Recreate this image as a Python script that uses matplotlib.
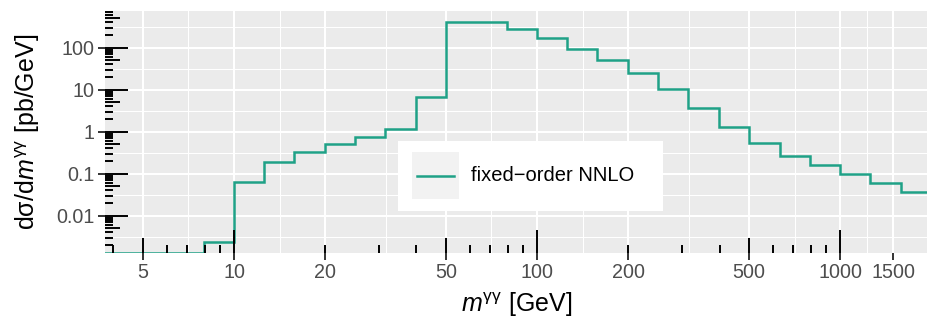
import numpy as np
import matplotlib
matplotlib.use("Agg")
import matplotlib.pyplot as plt
from matplotlib.patches import Rectangle
from matplotlib.lines import Line2D
from matplotlib.ticker import FixedLocator, FixedFormatter, NullFormatter

plt.rcParams['font.family'] = ['Liberation Sans', 'DejaVu Sans']
plt.rcParams['mathtext.fontset'] = 'custom'
plt.rcParams['mathtext.rm'] = 'Liberation Sans'
plt.rcParams['mathtext.it'] = 'Liberation Sans:italic'

# ---- data ----
bin_edges = [3.16, 3.98, 5.01, 6.31, 7.94,
             10.0, 12.6, 15.8, 20.0, 25.1, 31.6, 39.8, 50.1, 63.1, 79.4,
             100, 126, 158, 200, 251, 316, 398, 501, 631, 794,
             1000, 1259, 1585, 1995]
xsec = [0, 0, 0, 0, 0.0023,
        0.062, 0.185, 0.32, 0.506, 0.757, 1.135, 6.8, 403, 400, 284,
        170, 91.6, 50, 24.9, 10.2, 3.59, 1.265, 0.526, 0.267, 0.16,
        0.096, 0.0586, 0.0357]
series_label = "fixed\u2212order NNLO"

x_breaks = [5, 10, 20, 50, 100, 200, 500, 1000, 1500]
x_labels = ['5', '10', '20', '50', '100', '200', '500', '1000', '1500']
y_breaks = [0.01, 0.1, 1, 10, 100]
y_labels = ['0.01', '0.1', '1', '10', '100']

xlim = (10 ** 0.5743, 10 ** 3.290)
ylim = (10 ** -2.89, 10 ** 2.875)

W, H = 928, 320
fig = plt.figure(figsize=(W / 100, H / 100), dpi=100)
L, R, T, B = 105, 928, 11, 253
ax = fig.add_axes([L / W, 1 - B / H, (R - L) / W, (B - T) / H])
ax.set_facecolor('#EBEBEB')
for s in ax.spines.values():
    s.set_visible(False)

ax.set_xscale('log')
ax.set_yscale('log')
ax.set_xlim(*xlim)
ax.set_ylim(*ylim)

# major/minor breaks
ax.xaxis.set_major_locator(FixedLocator(x_breaks))
ax.xaxis.set_major_formatter(FixedFormatter(x_labels))
lx = np.log10(x_breaks)
x_minor = 10 ** ((lx[:-1] + lx[1:]) / 2)
ax.xaxis.set_minor_locator(FixedLocator(x_minor))
ax.xaxis.set_minor_formatter(NullFormatter())

ax.yaxis.set_major_locator(FixedLocator(y_breaks))
ax.yaxis.set_major_formatter(FixedFormatter(y_labels))
ly = np.log10([0.001] + y_breaks + [1000])
y_minor = 10 ** ((ly[:-1] + ly[1:]) / 2)
ax.yaxis.set_minor_locator(FixedLocator(y_minor))
ax.yaxis.set_minor_formatter(NullFormatter())

ax.grid(which='major', color='white', linewidth=1.5)
ax.grid(which='minor', color='white', linewidth=0.75)
ax.set_axisbelow(True)

ax.tick_params(which='major', direction='out', length=4.8, width=1.4,
               color='#333333', labelsize=14.2, labelcolor='#4D4D4D')
ax.tick_params(axis='x', which='major', pad=2.5)
ax.tick_params(axis='y', which='major', pad=3)
ax.tick_params(which='minor', length=0)

# step line
vals = np.clip(np.array(xsec, dtype=float), ylim[0], None)
ax.stairs(vals, bin_edges, baseline=None, color='#1FA187', linewidth=1.8, zorder=3)

# log ticks (annotation_logticks style)
ph = B - T
pw = R - L
long_l, mid_l, short_l = 23, 15.4, 7.7
tick_kw = dict(color='black', linewidth=1.4, zorder=4)
for dec in range(0, 4):
    for m in range(1, 10):
        v = m * 10 ** dec
        if not (xlim[0] <= v <= xlim[1]):
            continue
        ln = long_l if m == 1 else (mid_l if m == 5 else short_l)
        ax.vlines(v, 0, ln / ph, transform=ax.get_xaxis_transform(), **tick_kw)
for dec in range(-3, 3):
    for m in range(1, 10):
        v = m * 10.0 ** dec
        if not (ylim[0] <= v <= ylim[1]):
            continue
        ln = long_l if m == 1 else (mid_l if m == 5 else short_l)
        ax.hlines(v, 0, ln / pw, transform=ax.get_yaxis_transform(), **tick_kw)

# axis titles
ax.set_xlabel(r'$m^{\mathrm{γγ}}$ [GeV]', fontsize=18)
ax.xaxis.set_label_coords(0.5, -(305 - B) / ph)
ax.xaxis.label.set_va('center')
ax.set_ylabel(r'd$\mathrm{σ}$/d$m^{\mathrm{γγ}}$ [pb/GeV]', fontsize=18)
ax.yaxis.set_label_coords(-(L - 28) / pw, 0.5)
ax.yaxis.label.set_va('center')

# legend (ggplot style, drawn in figure pixel coordinates)
def fx(px):
    return px / W
def fy(py):
    return 1 - py / H

fig.patches.append(Rectangle((fx(397.5), fy(210.5)), fx(663) - fx(397.5), fy(141) - fy(210.5),
                             transform=fig.transFigure, facecolor='white', edgecolor='none', zorder=5))
fig.patches.append(Rectangle((fx(411.7), fy(199)), fx(459) - fx(411.7), fy(151.7) - fy(199),
                             transform=fig.transFigure, facecolor='#F2F2F2', edgecolor='none', zorder=6))
fig.lines.append(Line2D([fx(417), fx(454)], [fy(175.7), fy(175.7)], transform=fig.transFigure,
                        color='#1FA187', linewidth=1.8, zorder=7))
fig.text(fx(471.5), fy(175.5), series_label, fontsize=14.5, color='black',
         ha='left', va='center', zorder=8)

fig.savefig('out.png', dpi=100)
